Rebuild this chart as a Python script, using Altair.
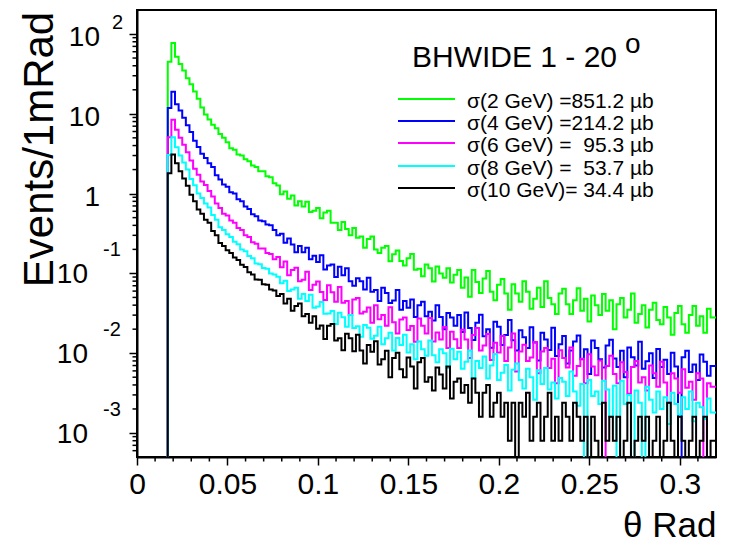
import altair as alt
import pandas as pd

FONT = "Liberation Sans"

# histogram binning (left edge of first bin, bin width, right end of axis)
bin_start = 0.017
bin_width = 0.002
x_end = 0.32

series_names = ["2 GeV", "4 GeV", "6 GeV", "8 GeV", "10 GeV"]
series_colors = ["#00ff00", "#0000ff", "#ff00ff", "#00ffff", "#000000"]
legend_labels = [
    "σ(2 GeV) =851.2 µb",
    "σ(4 GeV) =214.2 µb",
    "σ(6 GeV) =\u00a0\u00a095.3 µb",
    "σ(8 GeV) =\u00a0\u00a053.7 µb",
    "σ(10 GeV)=\u00a034.4 µb",
]
plot_title = "BHWIDE 1 - 20"
plot_title_sup = "o"

green = [
    45, 77, 52, 42, 35, 28, 23.5, 19, 15.5, 12, 9.8, 8.5, 7.3, 6.6, 5.6, 5.0, 4.4, 3.7, 3.55, 3.1,
    3.0, 2.7, 2.55, 2.25, 2.15, 1.9, 1.9, 1.65, 1.6, 1.35,
    1.26, 0.98, 1.06, 0.86, 0.95, 0.71, 0.8, 0.69, 0.79, 0.59,
    0.61, 0.66, 0.49, 0.58, 0.61, 0.43, 0.43, 0.35, 0.44, 0.36,
    0.30, 0.37, 0.28, 0.29, 0.21, 0.27, 0.29, 0.2, 0.18, 0.21,
    0.22, 0.142, 0.174, 0.194, 0.143, 0.126, 0.155, 0.175, 0.111, 0.114,
    0.092, 0.129, 0.116, 0.079, 0.122, 0.1, 0.088, 0.116, 0.077, 0.096,
    0.11, 0.066, 0.089, 0.051, 0.11, 0.078, 0.057, 0.086, 0.107, 0.059,
    0.046, 0.072, 0.085, 0.056, 0.035, 0.073, 0.056, 0.044, 0.08, 0.059,
    0.036, 0.048, 0.066, 0.038, 0.08, 0.049, 0.041, 0.031, 0.056, 0.064,
    0.041, 0.031, 0.046, 0.065, 0.034, 0.048, 0.025, 0.053, 0.04, 0.03,
    0.055, 0.034, 0.046, 0.02, 0.041, 0.049, 0.028, 0.035, 0.056, 0.024,
    0.031, 0.04, 0.021, 0.035, 0.043, 0.026, 0.023, 0.038, 0.028, 0.017,
    0.032, 0.039, 0.023, 0.018, 0.03, 0.039, 0.022, 0.029, 0.018, 0.036,
    0.028,
]
blue = [
    11.8, 18.9, 13.2, 11.0, 8.9, 7.2, 5.9, 4.6, 3.85, 3.15, 2.8, 2.4, 2.15, 1.7, 1.5, 1.3, 1.22, 1.04, 1.0, 0.85,
    0.8, 0.69, 0.64, 0.55, 0.52, 0.46, 0.45, 0.41, 0.4, 0.35,
    0.30, 0.313, 0.243, 0.274, 0.23, 0.184, 0.22, 0.184, 0.21, 0.15,
    0.166, 0.139, 0.169, 0.112, 0.126, 0.129, 0.09, 0.121, 0.095, 0.116,
    0.08, 0.07, 0.087, 0.08, 0.063, 0.088, 0.059, 0.062, 0.045, 0.066,
    0.057, 0.0425, 0.0456, 0.062, 0.035, 0.045, 0.037, 0.047, 0.0285, 0.04,
    0.044, 0.029, 0.033, 0.0256, 0.04, 0.0285, 0.02, 0.032, 0.028, 0.022,
    0.03, 0.0184, 0.0324, 0.0207, 0.0146, 0.0241, 0.0303, 0.0163, 0.02, 0.0117,
    0.0247, 0.0214, 0.0127, 0.0169, 0.0261, 0.0145, 0.0108, 0.0194, 0.0158, 0.0116,
    0.0211, 0.0136, 0.0081, 0.0181, 0.0148, 0.011, 0.0209, 0.0092, 0.0129, 0.0164,
    0.0074, 0.0108, 0.014, 0.0167, 0.0084, 0.0112, 0.0055, 0.0144, 0.0116, 0.0084,
    0.0066, 0.0125, 0.0147, 0.0086, 0.0067, 0.0107, 0.005, 0.0118, 0.0089, 0.007,
    0.0139, 0.0064, 0.0079, 0.01, 0.0049, 0.0113, 0.0067, 0.0083, 0.0055, 0.0101,
    0.0068, 0, 0.0089, 0.0107, 0.0058, 0.0072, 0.0046, 0.0096, 0.0078, 0.0052,
    0.0069,
]
magenta = [
    5.1, 8.4, 6.3, 5.0, 4.1, 3.3, 2.6, 2.05, 1.72, 1.42, 1.28, 1.08, 0.92, 0.75, 0.66, 0.56, 0.53, 0.46, 0.43, 0.37,
    0.35, 0.3, 0.285, 0.245, 0.235, 0.205, 0.205, 0.18, 0.175, 0.15,
    0.16, 0.119, 0.141, 0.095, 0.11, 0.118, 0.08, 0.083, 0.105, 0.062,
    0.072, 0.079, 0.0585, 0.0465, 0.071, 0.058, 0.044, 0.0675, 0.043, 0.045,
    0.03, 0.047, 0.049, 0.0315, 0.033, 0.0374, 0.024, 0.04, 0.0266, 0.0302,
    0.022, 0.0377, 0.0244, 0.0176, 0.0264, 0.0281, 0.0195, 0.0219, 0.0139, 0.0272,
    0.022, 0.0176, 0.0277, 0.014, 0.0182, 0.0148, 0.0213, 0.0116, 0.0186, 0.015,
    0.0116, 0.0196, 0.0148, 0.0087, 0.0169, 0.0207, 0.0108, 0.0125, 0.0174, 0.0082,
    0.0135, 0.0102, 0.0164, 0.008, 0.0118, 0.0176, 0.0059, 0.0105, 0.0128, 0.008,
    0.0088, 0.0138, 0.0056, 0.0105, 0.0116, 0.0065, 0.0085, 0.0042, 0.0109, 0.0087,
    0.0066, 0.0118, 0.0052, 0.0069, 0.0085, 0.0042, 0.0097, 0.0068, 0.0053, 0.0081,
    0, 0.0069, 0.0093, 0.0055, 0.0042, 0.0077, 0.0058, 0.0031, 0.0067, 0.008,
    0.0043, 0.005, 0.0034, 0.007, 0.0056, 0.0038, 0.0078, 0.0043, 0.0024, 0.0056,
    0.0048, 0.0032, 0.0063, 0.0037, 0.0044, 0.0026, 0.0056, 0.0048, 0, 0.0042,
    0.0038,
]
cyan = [
    3.05, 5.1, 3.8, 3.0, 2.45, 2.0, 1.52, 1.27, 1.0, 0.88, 0.75, 0.67, 0.54, 0.47, 0.38, 0.35, 0.31, 0.285, 0.25, 0.232,
    0.2, 0.19, 0.165, 0.155, 0.133, 0.13, 0.117, 0.114, 0.1, 0.097,
    0.091, 0.075, 0.081, 0.06, 0.063, 0.066, 0.048, 0.055, 0.045, 0.054,
    0.037, 0.0386, 0.0437, 0.0312, 0.0314, 0.0339, 0.0233, 0.0322, 0.0282, 0.0214,
    0.0301, 0.0207, 0.0218, 0.0161, 0.0225, 0.0209, 0.0152, 0.0165, 0.0215, 0.0129,
    0.0154, 0.0181, 0.0108, 0.0155, 0.0127, 0.017, 0.0102, 0.0129, 0.0084, 0.014,
    0.0112, 0.0093, 0.0144, 0.0094, 0.0077, 0.0112, 0.01, 0.0065, 0.0114, 0.0084,
    0.0104, 0.0064, 0.0078, 0.0108, 0.0049, 0.008, 0.0065, 0.0091, 0.0048, 0.007,
    0.0098, 0.0046, 0.0057, 0.0071, 0.0034, 0.0062, 0.0074, 0.0046, 0.0036, 0.0064,
    0.005, 0.0026, 0.0061, 0.0041, 0.0065, 0.0035, 0.0043, 0.0027, 0.0049, 0.0044,
    0.0029, 0.0059, 0.0033, 0.0022, 0.0041, 0, 0.0046, 0.0029, 0.0033, 0.0023,
    0.0045, 0.0035, 0.0016, 0.0039, 0, 0.0045, 0.0023, 0.003, 0, 0.0034,
    0.0024, 0, 0.0038, 0.0026, 0.0018, 0.0033, 0.002, 0.0028, 0.0013, 0.0032,
    0.0023, 0.0017, 0.0028, 0.002, 0.0033, 0.0014, 0.0024, 0.0021, 0.0015, 0.0027,
    0.0018,
]
black = [
    1.8, 3.1, 2.4, 1.9, 1.55, 1.25, 0.97, 0.8, 0.63, 0.56, 0.47, 0.43, 0.34, 0.3, 0.24, 0.22, 0.195, 0.18, 0.158, 0.147,
    0.128, 0.12, 0.103, 0.097, 0.084, 0.083, 0.073, 0.072, 0.063, 0.061,
    0.052, 0.055, 0.042, 0.048, 0.034, 0.039, 0.042, 0.029, 0.031, 0.024,
    0.029, 0.0202, 0.0222, 0.0151, 0.022, 0.0233, 0.0144, 0.0154, 0.0109, 0.0175,
    0.0154, 0.0106, 0.017, 0.0108, 0.0074, 0.0127, 0.0104, 0.0141, 0.0072, 0.0084,
    0.0107, 0.005, 0.0087, 0.0101, 0.0063, 0.005, 0.0088, 0.0068, 0.0036, 0.0077,
    0.0087, 0.0044, 0.005, 0.0034, 0.0066, 0.0054, 0.0036, 0.0068, 0.0027, 0.0044,
    0.0048, 0.0032, 0.004, 0.0024, 0.0048, 0.0032, 0.0016, 0.0032, 0.004, 0.0016,
    0.0024, 0.0032, 0.0016, 0.0024, 0.0008, 0.0024, 0, 0.0024, 0.0016, 0.0032,
    0.0008, 0.0016, 0.0024, 0.0008, 0.0016, 0.0032, 0.0008, 0.0016, 0.0008, 0.0024,
    0.0016, 0.0008, 0.0024, 0.0016, 0.0008, 0.0016, 0, 0.0016, 0.0008, 0,
    0.0024, 0.0008, 0.0016, 0.0008, 0.0016, 0, 0.0008, 0.0024, 0, 0.0008,
    0.0016, 0.0008, 0.0016, 0, 0.0008, 0.0016, 0, 0.0008, 0.0024, 0.0008,
    0, 0.0016, 0.0008, 0, 0.0008, 0.0016, 0, 0.0008, 0.0016, 0,
    0.0008,
]
series_values = [green, blue, magenta, cyan, black]

# axis ticks
x_major = [0, 0.05, 0.1, 0.15, 0.2, 0.25, 0.3]
x_minor = [0.01, 0.02, 0.03, 0.04, 0.06, 0.07, 0.08, 0.09, 0.11, 0.12, 0.13, 0.14,
           0.16, 0.17, 0.18, 0.19, 0.21, 0.22, 0.23, 0.24, 0.26, 0.27, 0.28, 0.29, 0.31]
y_major = [0.001, 0.01, 0.1, 1, 10, 100]
y_minor = [m * 10.0 ** e for e in range(-4, 2) for m in range(2, 10)
           if 5.2e-4 < m * 10.0 ** e < 199]

W, H = 579, 447

xscale = alt.Scale(domain=[0, x_end], nice=False, zero=False)
yscale = alt.Scale(type="log", domain=[5e-4, 200], nice=False)

# the same axis definition is given to every layer so the shared axis merges cleanly
x_axis = alt.Axis(
    values=x_major, format="~g", tickSize=8, tickWidth=1.5, tickColor="black",
    domainColor="black", domainWidth=2, labelFont=FONT, labelFontSize=30,
    labelColor="black", labelPadding=4, labelFlush=False, labelOverlap=False,
    grid=False, title="θ Rad", titleFont=FONT, titleFontSize=35,
    titleFontWeight="normal", titleColor="black", titleAnchor="end",
    titleAlign="right", titleBaseline="alphabetic", titleX=W, titleY=79,
)
y_axis = alt.Axis(
    values=y_major, labels=False, tickSize=8, tickWidth=1.5, tickColor="black",
    domainColor="black", domainWidth=2, grid=False, title="Events/1mRad",
    titleFont=FONT, titleFontSize=42, titleFontWeight="normal", titleColor="black",
    titleAngle=270, titleX=-85, titleY=139, titleAlign="center",
    titleBaseline="alphabetic",
)


def hist_layer(vals, color):
    xs = [bin_start] + [bin_start + bin_width * i for i in range(len(vals))] + [x_end]
    vs = [0.0] + list(vals) + [vals[-1]]
    df = pd.DataFrame({"i": list(range(len(xs))), "x": xs, "v": vs})
    return (
        alt.Chart(df)
        .transform_calculate(vv="datum.v > 0 ? datum.v : 0.0001")
        .mark_line(interpolate="step-after", strokeWidth=2, clip=True, color=color)
        .encode(
            x=alt.X("x:Q", scale=xscale, axis=x_axis),
            y=alt.Y("vv:Q", scale=yscale, axis=y_axis),
            order=alt.Order("i:Q"),
        )
    )


hist_layers = [hist_layer(v, c) for v, c in zip(series_values, series_colors)]

xminor = alt.Chart(pd.DataFrame({"t": x_minor})).mark_rule(color="black", strokeWidth=1.5).encode(
    x=alt.X("t:Q", scale=xscale, axis=x_axis), y=alt.value(H), y2=alt.value(H + 4.5)
)
yminor = alt.Chart(pd.DataFrame({"t": y_minor})).mark_rule(color="black", strokeWidth=1.5).encode(
    y=alt.Y("t:Q", scale=yscale, axis=y_axis), x=alt.value(-4.5), x2=alt.value(0)
)


def ylabel_layer(ticks, texts, xpos, align, size, dy):
    return alt.Chart(pd.DataFrame({"t": ticks, "s": texts})).mark_text(
        font=FONT, fontSize=size, align=align, baseline="middle", dy=dy, color="black"
    ).encode(y=alt.Y("t:Q", scale=yscale, axis=y_axis), x=alt.value(xpos), text="s:N")


ylabels = [
    ylabel_layer([100, 10], ["10", "10"], -37, "right", 28, 4),
    ylabel_layer([1], ["1"], -37, "right", 28, 4),
    ylabel_layer([0.1, 0.01, 0.001], ["10", "10", "10"], -49, "right", 28, 2),
    ylabel_layer([100], ["2"], -25, "left", 20, -11),
    ylabel_layer([0.1, 0.01, 0.001], ["-1", "-2", "-3"], -34, "left", 20, -23),
]

title_df = pd.DataFrame({"s": [plot_title], "o": [plot_title_sup]})
title_main = alt.Chart(title_df).mark_text(
    font=FONT, fontSize=30, align="left", baseline="alphabetic", color="black"
).encode(x=alt.value(275), y=alt.value(57), text="s:N")
title_sup = alt.Chart(title_df).mark_text(
    font=FONT, fontSize=28, align="left", baseline="alphabetic", color="black"
).encode(x=alt.value(488), y=alt.value(43), text="o:N")

# legend box entries (line sample + label), one row per series
legend_row_y = [89, 111, 133, 156, 178]
legend_layers = []
for name, lab, col, ry in zip(series_names, legend_labels, series_colors, legend_row_y):
    row_df = pd.DataFrame({"name": [name], "label": [lab]})
    legend_layers.append(
        alt.Chart(row_df).mark_rule(strokeWidth=2, color=col).encode(
            x=alt.value(261), x2=alt.value(318), y=alt.value(ry)
        )
    )
    legend_layers.append(
        alt.Chart(row_df).mark_text(
            font=FONT, fontSize=21, align="left", baseline="middle", dy=3, color="black"
        ).encode(x=alt.value(330), y=alt.value(ry), text="label:N")
    )

chart = (
    alt.layer(*hist_layers, xminor, yminor, *ylabels, title_main, title_sup, *legend_layers)
    .properties(
        width=W, height=H,
        autosize=alt.AutoSizeParams(type="none"),
        padding={"left": 137, "top": 10, "right": 15, "bottom": 87},
        background="white",
    )
    .configure_view(stroke="black", strokeWidth=2)
)

chart.save("out.html", embed_options={"renderer": "svg", "actions": False})
